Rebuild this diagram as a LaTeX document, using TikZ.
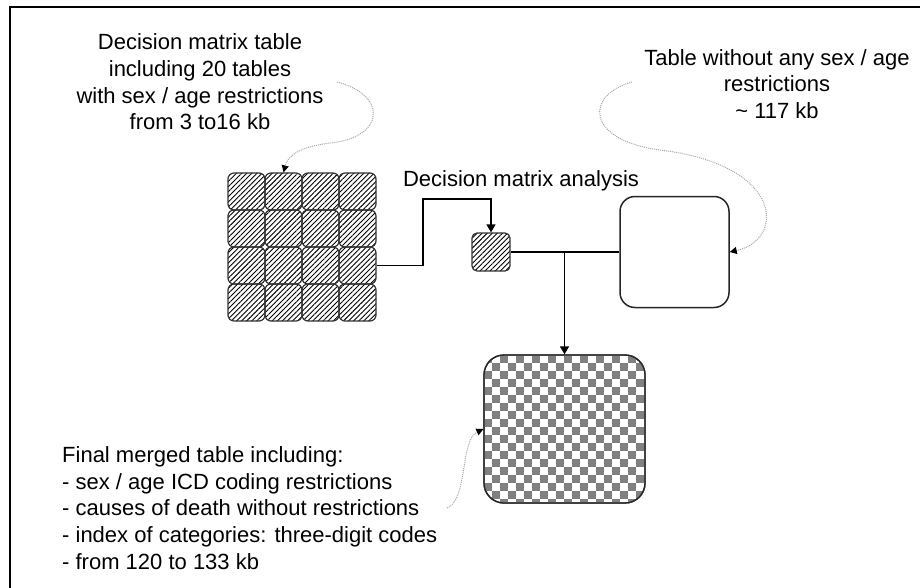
\documentclass[tikz,border=0pt]{standalone}
\usepackage{fontspec}
\setmainfont{Liberation Sans}
\usetikzlibrary{arrows.meta,patterns.meta}
\begin{document}
\begin{tikzpicture}[x=1pt,y=-1pt,
  lbl/.style={font=\fontsize{22}{26.6}\selectfont, inner sep=0pt},
  hatched/.style={draw=black!80, line width=1.2pt, inner sep=0pt,
    pattern={Lines[angle=45,distance=3.6pt,line width=0.9pt]}},
  cell/.style={hatched, rounded corners=6pt, minimum size=37pt},
  conn/.style={line width=1.4pt},
  tip/.style={-{Triangle[length=8pt,width=9pt]}},
  note/.style={draw=gray!70, line width=1pt, dash pattern=on 1pt off 1pt,
    -{Triangle[length=7pt,width=7pt,color=black,fill=black]}},
  merged/.style={draw=black!85, line width=1.3pt, rounded corners=20pt,
    minimum width=161pt, minimum height=148pt, inner sep=0pt},
  chk/.style={fill=gray, sharp corners}
]
\clip (0,0) rectangle (920,588);
\fill[white] (0,0) rectangle (920,588);

% outer frame (left and top edges)
\draw[line width=2.4pt] (10,600) -- (10,7) -- (930,7);

% 4x4 grid of decision matrix tables
\foreach \r in {1,...,4}{
  \foreach \c in {1,...,4}{
    \node[cell] (g\r\c) at (209.5+37*\c, 154.5+37*\r) {};
  }}

% decision matrix analysis
\node[hatched, rounded corners=5pt, minimum size=38pt] (small) at (491,252) {};
\node[lbl, anchor=center] (analysis) at (521,181) {Decision matrix analysis};

% table without restrictions
\node[draw=black!85, line width=1.5pt, rounded corners=15pt, minimum width=109pt,
  minimum height=111pt, inner sep=0pt] (tab) at (674.5,252) {};

% final merged table with checkerboard fill
\node[merged] (final) at (564.5,429) {};
\begin{scope}
  \clip[rounded corners=20pt] (final.north west) rectangle (final.south east);
  \foreach \i in {0,2,...,20}{
    \foreach \j in {0,2,...,18}{
      \fill[chk] (484+8*\i,355+8*\j) rectangle ++(8,8);
      \fill[chk] (492+8*\i,363+8*\j) rectangle ++(8,8);
    }}
\end{scope}
\node[merged] at (final) {};

% connectors
\coordinate (bend) at (423,199);
\draw[conn, tip] (g34.east) -| (bend) -| (small.north);
\draw[conn] (small.east) -- (tab.west);
\coordinate (junc) at (final.north |- small.east);
\draw[conn, tip] (junc) -- (final.north);

% labels
\node[lbl, align=center] (lblgrid) at (200,82) {Decision matrix table\\including 20 tables\\with sex / age restrictions\\from 3 to16 kb};
\node[lbl, align=center] (lbltab) at (777,84) {Table without any sex / age\\restrictions\\\textasciitilde\ 117 kb};
\node[lbl, align=left, anchor=west] (lblfinal) at (62,508) {Final merged table including:\\- sex / age ICD coding restrictions\\- causes of death without restrictions\\- index of categories: three-digit codes\\- from 120 to 133 kb};

% dotted pointers
\coordinate (n1) at (337,82);
\coordinate (n2) at (632,82);
\coordinate (n3) at (447,508);
\draw[note] (n1) .. controls (388,95) and (385,138) .. (330,143)
  .. controls (300,147) and (288,155) .. (g12.north);
\draw[note] (n2) .. controls (585,95) and (585,140) .. (660,150)
  .. controls (785,165) and (785,240) .. (tab.east);
\draw[note] (n3) .. controls (468,500) and (460,440) .. (final.west);
\end{tikzpicture}
\end{document}
